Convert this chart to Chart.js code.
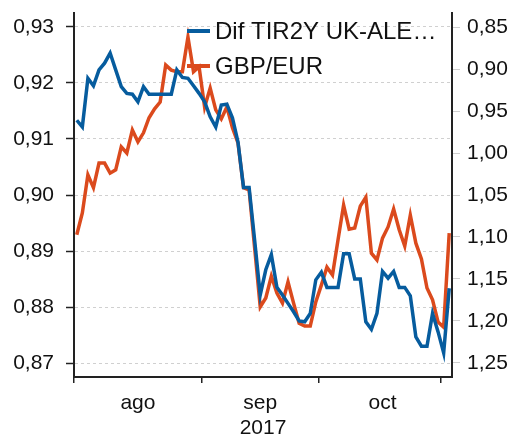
<!DOCTYPE html>
<html>
<head>
<meta charset="utf-8">
<script src="https://cdn.jsdelivr.net/npm/chart.js@4"></script>
<style>
  body { margin: 0; background: #fff; }
  canvas { display: block; }
</style>
</head>
<body>
<canvas id="chart" width="516" height="439"></canvas>
<script>
// dias habiles ago-nov 2017
const dates = [
  "2017-08-01","2017-08-02","2017-08-03","2017-08-04","2017-08-07","2017-08-08","2017-08-09","2017-08-10",
  "2017-08-11","2017-08-14","2017-08-15","2017-08-16","2017-08-17","2017-08-18","2017-08-21","2017-08-22",
  "2017-08-23","2017-08-24","2017-08-25","2017-08-28","2017-08-29","2017-08-30","2017-08-31",
  "2017-09-01","2017-09-04","2017-09-05","2017-09-06","2017-09-07","2017-09-08","2017-09-11","2017-09-12",
  "2017-09-13","2017-09-14","2017-09-15","2017-09-18","2017-09-19","2017-09-20","2017-09-21","2017-09-22",
  "2017-09-25","2017-09-26","2017-09-27","2017-09-28","2017-09-29",
  "2017-10-02","2017-10-03","2017-10-04","2017-10-05","2017-10-06","2017-10-09","2017-10-10","2017-10-11",
  "2017-10-12","2017-10-13","2017-10-16","2017-10-17","2017-10-18","2017-10-19","2017-10-20","2017-10-23",
  "2017-10-24","2017-10-25","2017-10-26","2017-10-27","2017-10-30","2017-10-31",
  "2017-11-01","2017-11-02"
];

// eje derecho (invertido)
const difTir2y = [
  0.961, 0.969, 0.911, 0.920, 0.901, 0.893, 0.881, 0.901, 0.921, 0.929,
  0.930, 0.939, 0.921, 0.930, 0.930, 0.930, 0.930, 0.930, 0.901, 0.910,
  0.911, 0.920, 0.929, 0.939, 0.957, 0.969, 0.943, 0.942, 0.958, 0.987,
  1.041, 1.041, 1.104, 1.169, 1.139, 1.121, 1.160, 1.169, 1.179, 1.189,
  1.200, 1.201, 1.191, 1.151, 1.142, 1.160, 1.160, 1.160, 1.120, 1.120,
  1.150, 1.150, 1.201, 1.210, 1.191, 1.141, 1.149, 1.141, 1.160, 1.160,
  1.170, 1.219, 1.230, 1.230, 1.191, 1.213, 1.238, 1.161
];

// eje izquierdo
const gbpEur = [
  0.8929, 0.8968, 0.9036, 0.9013, 0.9057, 0.9057, 0.9039, 0.9045, 0.9086, 0.9075,
  0.9116, 0.9095, 0.9111, 0.9138, 0.9154, 0.9166, 0.9232, 0.9223, 0.9220, 0.9220,
  0.9282, 0.9220, 0.9229, 0.9157, 0.9191, 0.9152, 0.9136, 0.9157, 0.9120, 0.9093,
  0.9013, 0.9009, 0.8905, 0.8800, 0.8816, 0.8855, 0.8825, 0.8807, 0.8845, 0.8807,
  0.8771, 0.8766, 0.8766, 0.8809, 0.8839, 0.8871, 0.8857, 0.8920, 0.8982, 0.8939,
  0.8941, 0.8980, 0.8996, 0.8896, 0.8884, 0.8923, 0.8943, 0.8975, 0.8938, 0.8909,
  0.8964, 0.8914, 0.8886, 0.8834, 0.8813, 0.8773, 0.8764, 0.8932
];

const leftTicks = [0.87, 0.88, 0.89, 0.90, 0.91, 0.92, 0.93];
const rightTicks = [0.85, 0.90, 0.95, 1.00, 1.05, 1.10, 1.15, 1.20, 1.25];
const monthNames = { "08": "ago", "09": "sep", "10": "oct" };
const yearLabel = "2017";

const BLUE = "#065c9e";
const ORANGE = "#db4a1d";
const FONT = "'Liberation Sans', Arial, sans-serif";

// indice donde empieza cada mes y etiqueta en el centro de cada mes
const monthOf = (d) => d.slice(5, 7);
const monthStarts = new Set();
const monthGroups = {};
dates.forEach((d, i) => {
  const m = monthOf(d);
  if (i === 0 || monthOf(dates[i - 1]) !== m) monthStarts.add(i);
  (monthGroups[m] = monthGroups[m] || []).push(i);
});
const labelAt = {};
Object.keys(monthGroups).forEach((m) => {
  if (!monthNames[m]) return;
  const idx = monthGroups[m];
  labelAt[idx[Math.floor(idx.length / 2)]] = monthNames[m];
});

const fmt = (v, dec) => v.toFixed(dec).replace(".", ",");

// ancho fijo del eje y sin el relleno extra que mete chart.js arriba/abajo
const fixYAxis = (width) => (s) => {
  s.width = width;
  s.paddingTop = 13;
  s.paddingBottom = 0;
};

// leyenda dibujada dentro del area del grafico
const insideLegend = {
  id: "insideLegend",
  afterDatasetsDraw(chart) {
    const ctx = chart.ctx;
    ctx.save();
    ctx.font = "24px " + FONT;
    ctx.textBaseline = "middle";
    chart.data.datasets.forEach((ds, i) => {
      const y = 31 + i * 35;
      ctx.strokeStyle = ds.borderColor;
      ctx.lineWidth = 4;
      ctx.beginPath();
      ctx.moveTo(187, y);
      ctx.lineTo(210, y);
      ctx.stroke();
      ctx.fillStyle = "#111";
      ctx.fillText(ds.label, 215, y + 1);
    });
    ctx.restore();
  },
};

new Chart(document.getElementById("chart"), {
  type: "line",
  data: {
    labels: dates,
    datasets: [
      {
        label: "Dif TIR2Y UK-ALE\u2026",
        data: difTir2y,
        yAxisID: "y2",
        borderColor: BLUE,
        borderWidth: 3.5,
        pointRadius: 0,
        tension: 0,
      },
      {
        label: "GBP/EUR",
        data: gbpEur,
        yAxisID: "y",
        borderColor: ORANGE,
        borderWidth: 3.5,
        pointRadius: 0,
        tension: 0,
      },
    ],
  },
  options: {
    responsive: false,
    animation: false,
    events: [],
    layout: { padding: 0 },
    plugins: { legend: { display: false }, tooltip: { enabled: false } },
    scales: {
      x: {
        type: "category",
        offset: true,
        grid: {
          offset: true,
          drawOnChartArea: false,
          drawTicks: true,
          tickLength: 6,
          color: (c) => (monthStarts.has(c.index) ? "#222" : "rgba(0,0,0,0)"),
          tickColor: (c) => (monthStarts.has(c.index) ? "#222" : "rgba(0,0,0,0)"),
          lineWidth: 1.5,
        },
        border: { display: true, color: "#222", width: 2 },
        ticks: {
          autoSkip: false,
          maxRotation: 0,
          minRotation: 0,
          padding: 8,
          color: "#111",
          font: { family: FONT, size: 21 },
          callback: (v, i) => labelAt[i] || "",
        },
        title: {
          display: true,
          text: yearLabel,
          color: "#111",
          font: { family: FONT, size: 21, lineHeight: 1 },
          padding: { top: 0, bottom: 0 },
        },
        afterFit: (s) => { s.height = 62; },
      },
      y: {
        position: "left",
        min: 0.8675,
        max: 0.9325,
        afterBuildTicks: (s) => { s.ticks = leftTicks.map((v) => ({ value: v })); },
        grid: {
          color: "#d0d0d0",
          lineWidth: 1,
          tickLength: 8,
          tickColor: "#222",
          tickWidth: 1.5,
          tickBorderDash: [],
        },
        border: { display: true, color: "#222", width: 2, dash: [3, 3] },
        ticks: {
          padding: 12,
          color: "#111",
          font: { family: FONT, size: 21 },
          callback: (v) => fmt(v, 2),
        },
        afterFit: fixYAxis(74),
      },
      y2: {
        position: "right",
        reverse: true,
        min: 0.8333,
        max: 1.2667,
        afterBuildTicks: (s) => { s.ticks = rightTicks.map((v) => ({ value: v })); },
        grid: {
          drawOnChartArea: false,
          tickLength: 8,
          color: "#cfcfcf",
          tickColor: "#cfcfcf",
        },
        border: { display: true, color: "#222", width: 2 },
        ticks: {
          padding: 7,
          color: "#111",
          font: { family: FONT, size: 21 },
          callback: (v) => fmt(v, 2),
        },
        afterFit: fixYAxis(64),
      },
    },
  },
  plugins: [insideLegend],
});
</script>
</body>
</html>
